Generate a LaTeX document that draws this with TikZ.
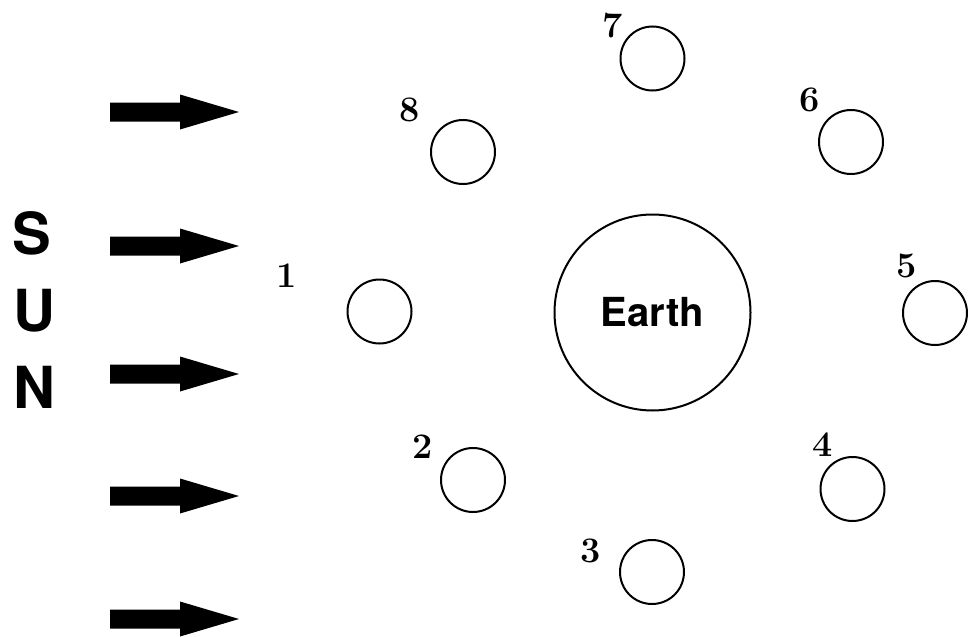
\documentclass[tikz,border=0pt]{standalone}
\usepackage{fontspec}
\newfontfamily\heros{TeX Gyre Heros}
\begin{document}
\begin{tikzpicture}[x=1pt,y=-1pt,
  moon/.style={circle,draw,line width=2pt,minimum size=64pt,inner sep=0pt},
  earth/.style={circle,draw,line width=2pt,minimum size=196pt,inner sep=0pt,font=\heros\bfseries\fontsize{40}{40}\selectfont},
  num/.style={font=\bfseries\fontsize{36}{36}\selectfont,inner sep=0pt},
  sunl/.style={font=\heros\bfseries\fontsize{58}{58}\selectfont,inner sep=0pt},
  ray/.style={fill=black}]
\useasboundingbox (0,0) rectangle (978,637);
\node[earth] (E) at (652.5,312.5) {Earth};
\node[moon] (m1) at (379.5,311.5) {};
\node[moon] (m2) at (473,480) {};
\node[moon] (m3) at (652,572) {};
\node[moon] (m4) at (852.5,489) {};
\node[moon] (m5) at (935,313) {};
\node[moon] (m6) at (851,142) {};
\node[moon] (m7) at (652.5,58.5) {};
\node[moon] (m8) at (463,152) {};
\node[num] (l1) at (287,276) {1};
\node[num] (l2) at (423,447) {2};
\node[num] (l3) at (591,551) {3};
\node[num] (l4) at (823,445) {4};
\node[num] (l5) at (907,266) {5};
\node[num] (l6) at (810,100) {6};
\node[num] (l7) at (613,26) {7};
\node[num] (l8) at (410,110) {8};
\node[sunl] (S) at (32,233) {S};
\node[sunl] (U) at (34,311) {U};
\node[sunl] (N) at (34,387) {N};
\foreach \y in {112,246,374,496,619}{
  \fill[ray] (110,\y-9.5) -- (180,\y-9.5) -- (180,\y-17.5) -- (239,\y) -- (180,\y+17.5) -- (180,\y+9.5) -- (110,\y+9.5) -- cycle;
}
\end{tikzpicture}
\end{document}
